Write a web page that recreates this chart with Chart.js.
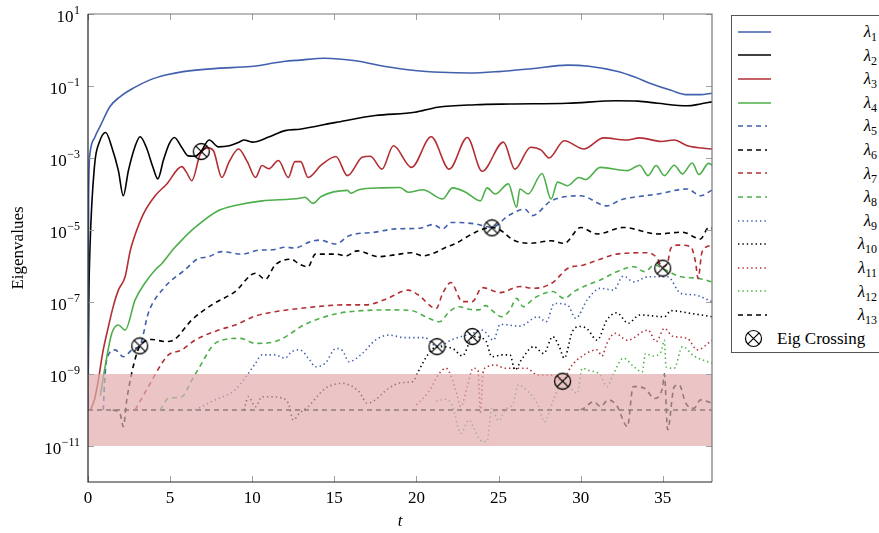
<!DOCTYPE html>
<html lang="en">
<head>
<meta charset="UTF-8">
<title>Eigenvalues over time</title>
<script src="https://cdn.jsdelivr.net/npm/chart.js"></script>
<style>
    body { margin: 0; background: #fff; font-family: 'Liberation Serif', 'Times New Roman', serif; }
    #wrap { position: relative; width: 879px; height: 533px; overflow: hidden; }
    #legend {
        position: absolute; left: 731px; top: 15px; width: 160px; height: 338px;
        border: 1px solid #555; box-sizing: border-box; padding-top: 4px; background: #fff;
    }
    .row { position: relative; height: 23.6px; }
    .row svg { position: absolute; top: 3.8px; }
    .lab { position: absolute; right: 13px; top: 0; line-height: 23.6px; font-size: 17px; color: #000; }
    .lab .sub { font-size: 12px; position: relative; top: 4px; }
    .txt { position: absolute; left: 45px; top: 0; line-height: 23.6px; font-size: 17px; }
</style>
</head>
<body>
<div id="wrap">
    <canvas id="chart" width="879" height="533"></canvas>
    <div id="legend"></div>
</div>

<script>
// ---- data (t, log10 of eigenvalue) ----
const lam1T = [0, 0.04, 0.12, 0.43, 0.73, 1.34, 1.95, 2.76, 3.78, 4.8, 5.8, 7.85, 9.9, 11.9, 12.9, 14.4, 16.3, 18.0, 19.9, 21.5, 23.2, 25.0, 27.0, 29.2, 30.5, 32.2, 33.3, 34.3, 35.5, 36.5, 37.3, 38];
const lam1E = [-10, -4, -2.87, -2.41, -2.13, -1.57, -1.3, -1.06, -0.83, -0.69, -0.6, -0.51, -0.46, -0.32, -0.28, -0.23, -0.3, -0.45, -0.57, -0.62, -0.64, -0.6, -0.52, -0.42, -0.45, -0.59, -0.75, -0.94, -1.12, -1.24, -1.24, -1.2];

const lam2T = [0, 0.05, 0.12, 0.4, 0.7, 1.08, 1.45, 1.85, 2.15, 2.46, 2.85, 3.17, 3.55, 3.95, 4.25, 4.6, 4.95, 5.26, 5.7, 6.1, 6.5, 6.85, 7.38, 7.95, 8.6, 9.2, 9.5, 10.0, 11.0, 12.0, 12.9, 15.1, 17.5, 19.9, 21.3, 23.6, 25.7, 29.2, 32.2, 33.5, 34.7, 36.5, 37.3, 38];
const lam2E = [-10, -7, -5.5, -3.2, -2.55, -2.29, -2.7, -3.35, -4.05, -3.35, -2.7, -2.41, -2.7, -3.25, -3.58, -3.05, -2.6, -2.43, -2.7, -2.94, -2.95, -2.84, -2.5, -2.69, -2.66, -2.56, -2.5, -2.56, -2.42, -2.24, -2.2, -2.01, -1.82, -1.73, -1.59, -1.52, -1.5, -1.48, -1.41, -1.42, -1.48, -1.55, -1.5, -1.44];

const lam3T = [0.15, 0.4, 0.63, 0.9, 1.24, 1.55, 1.85, 2.26, 2.56, 2.76, 3.37, 4.09, 4.8, 5.71, 6.0, 6.32, 6.83, 7.3, 7.64, 8.15, 8.6, 9.17, 9.7, 10.2, 10.6, 11.0, 11.6, 12.2, 12.6, 12.95, 13.4, 14.2, 15.1, 15.8, 16.7, 17.2, 17.9, 18.6, 19.7, 20.9, 22.0, 23.1, 24.0, 25.3, 26.0, 26.95, 27.6, 28.07, 29.0, 30.2, 31.4, 32.8, 33.6, 34.9, 35.7, 36.5, 38];
const lam3E = [-10, -9.7, -9.17, -8.4, -7.69, -7.1, -6.67, -6.3, -5.6, -5.28, -4.56, -4.05, -3.72, -3.24, -3.4, -3.63, -2.9, -2.72, -2.8, -3.54, -3.1, -2.75, -3.1, -3.54, -3.21, -3.3, -3.07, -3.54, -3.1, -3.1, -3.54, -3.2, -2.96, -3.49, -2.98, -2.95, -3.31, -2.66, -3.26, -2.41, -3.31, -2.43, -3.37, -2.56, -3.31, -2.7, -2.78, -3.0, -2.52, -2.75, -2.44, -2.5, -2.44, -2.54, -2.5, -2.66, -2.75];

const lam4T = [0.75, 1.04, 1.45, 1.85, 2.26, 2.87, 3.5, 4.09, 4.5, 5.2, 5.71, 6.52, 7.95, 8.96, 10.6, 12.9, 13.2, 13.7, 14.2, 15.8, 16.0, 16.5, 17.9, 19.0, 19.5, 20.4, 21.6, 22.2, 23.0, 23.9, 24.3, 24.8, 25.6, 26.1, 26.3, 26.8, 27.65, 28.2, 28.6, 29.2, 29.9, 30.3, 31.2, 32.85, 33.6, 34.1, 34.6, 35.1, 35.7, 36.2, 36.8, 37.2, 37.8, 38];
const lam4E = [-9.6, -8.8, -7.87, -7.64, -7.78, -6.94, -6.45, -6.11, -5.93, -5.53, -5.28, -4.93, -4.46, -4.32, -4.19, -4.12, -4.09, -4.26, -4.07, -3.9, -3.98, -3.88, -3.83, -3.82, -3.95, -3.88, -4.14, -3.83, -3.95, -4.19, -3.83, -4.0, -3.72, -4.37, -3.86, -4.0, -3.43, -4.14, -3.67, -3.77, -3.54, -3.6, -3.26, -3.35, -3.2, -3.49, -3.21, -3.49, -3.2, -3.44, -3.14, -3.46, -3.15, -3.2];

const lam5T = [0.93, 1.0, 1.14, 1.65, 2.15, 2.76, 3.17, 3.68, 4.7, 5.9, 6.73, 7.3, 8.15, 9.37, 10.4, 11.2, 12.0, 12.6, 13.5, 14.1, 14.65, 15.1, 15.9, 17.5, 18.7, 20.2, 21.0, 21.6, 22.1, 23.6, 24.6, 25.6, 26.6, 27.05, 28.2, 30.0, 31.6, 32.4, 34.7, 36.5, 37.3, 38];
const lam5E = [-10, -9.3, -8.6, -8.33, -8.52, -8.3, -8.2, -7.3, -6.57, -6.11, -5.79, -5.75, -5.6, -5.67, -5.56, -5.55, -5.48, -5.5, -5.33, -5.28, -5.34, -5.39, -5.16, -5.06, -4.97, -4.95, -4.85, -4.97, -4.79, -4.83, -4.93, -4.6, -4.42, -4.6, -4.19, -4.05, -4.33, -4.17, -4.0, -3.86, -4.05, -3.89];

const lam6T = [1.5, 1.95, 2.15, 2.36, 2.66, 2.97, 3.17, 3.88, 4.7, 5.2, 6.32, 7.54, 8.96, 10.2, 10.8, 11.4, 12.4, 12.8, 13.4, 13.85, 15.1, 15.7, 16.4, 17.7, 18.7, 19.7, 20.4, 21.0, 21.8, 22.4, 23.6, 24.6, 25.1, 25.9, 26.95, 28.2, 29.0, 30.0, 31.0, 32.6, 34.7, 36.2, 37.3, 37.8, 38];
const lam6E = [-10, -10.1, -10.46, -9.72, -8.98, -8.43, -8.22, -8.04, -8.1, -8.06, -7.5, -7.08, -6.71, -6.2, -6.37, -5.97, -5.81, -5.93, -6.02, -5.67, -5.67, -5.72, -5.58, -5.74, -5.69, -5.63, -5.72, -5.65, -5.48, -5.37, -5.06, -4.93, -5.0, -5.28, -5.37, -5.3, -5.37, -4.93, -5.11, -4.93, -5.11, -5.06, -5.25, -4.93, -4.95];

const lam7T = [2.87, 3.68, 4.5, 4.9, 5.71, 6.52, 7.95, 8.96, 10.2, 11.4, 12.9, 15.7, 16.9, 18.1, 19.5, 20.1, 21.2, 21.6, 22.1, 22.8, 23.4, 24.0, 24.8, 25.1, 26.3, 27.15, 28.3, 29.2, 30.2, 31.2, 32.2, 34.1, 34.6, 35.0, 35.3, 35.5, 35.9, 36.7, 37.0, 37.15, 37.4, 38];
const lam7E = [-10, -9.35, -8.7, -8.47, -8.33, -8.06, -7.78, -7.64, -7.39, -7.27, -7.18, -7.08, -7.08, -6.93, -6.67, -6.8, -7.18, -6.76, -6.46, -6.99, -6.99, -6.6, -6.71, -6.74, -6.57, -6.62, -6.46, -6.07, -5.97, -5.81, -5.67, -5.63, -5.75, -6.02, -5.9, -5.5, -5.42, -5.46, -5.9, -6.35, -5.6, -5.42];

const lam8T = [4.39, 4.9, 5.71, 6.32, 6.93, 7.54, 8.15, 9.27, 10.2, 11.4, 12.2, 12.9, 13.85, 15.3, 16.7, 18.7, 19.7, 20.75, 21.4, 22.0, 22.6, 23.2, 23.8, 24.2, 24.7, 25.2, 25.7, 26.1, 26.5, 27.15, 28.3, 29.0, 29.6, 30.4, 31.2, 32.2, 33.25, 33.9, 34.5, 35.0, 36.1, 37.1, 38];
const lam8E = [-10, -9.68, -9.63, -9.17, -8.7, -8.24, -8.06, -8.01, -8.15, -8.1, -7.92, -7.7, -7.5, -7.31, -7.24, -7.22, -7.24, -7.45, -7.55, -7.27, -7.13, -7.2, -7.22, -7.1, -7.27, -7.41, -7.22, -6.9, -7.13, -6.9, -6.71, -6.9, -6.71, -6.53, -6.39, -6.16, -6.02, -6.16, -5.97, -6.07, -6.3, -6.34, -6.44];

const lam9T = [6.52, 7.74, 8.96, 9.77, 10.2, 10.6, 11.4, 12.0, 12.4, 12.9, 13.5, 13.85, 14.45, 15.1, 15.5, 15.9, 16.7, 17.5, 18.3, 19.3, 20.5, 21.25, 22.2, 23.4, 24.0, 24.7, 25.1, 26.3, 27.4, 27.9, 28.4, 29.2, 29.7, 30.4, 31.2, 32.0, 32.6, 33.25, 34.1, 35.3, 36.1, 36.9, 38];
const lam9E = [-10, -9.72, -9.44, -8.98, -8.7, -8.47, -8.47, -8.56, -8.38, -8.33, -8.61, -8.8, -8.7, -8.29, -8.35, -8.66, -8.43, -8.06, -7.92, -7.99, -7.99, -8.24, -8.04, -7.87, -7.78, -8.06, -7.62, -7.67, -7.41, -7.55, -7.04, -7.08, -7.45, -6.94, -6.62, -6.67, -6.28, -6.44, -6.3, -6.3, -6.76, -6.8, -6.99];

const lam10T = [9.5, 9.77, 10.2, 10.6, 11.0, 11.6, 12.2, 12.5, 12.9, 13.4, 14.45, 15.5, 16.5, 17.0, 17.4, 18.3, 19.1, 19.8, 20.1, 20.75, 21.25, 22.2, 22.8, 23.2, 23.4, 24.2, 24.6, 25.2, 25.7, 26.0, 26.4, 27.15, 27.75, 28.3, 28.7, 29.0, 29.5, 30.0, 30.4, 31.0, 31.6, 32.2, 32.9, 33.6, 35.1, 35.5, 36.5, 38];
const lam10E = [-10, -9.63, -9.91, -9.63, -9.63, -9.65, -9.81, -10.28, -10.08, -9.91, -9.4, -9.26, -9.49, -9.81, -9.75, -9.4, -9.24, -9.21, -8.94, -8.43, -8.24, -8.29, -8.5, -8.15, -7.96, -8.06, -8.52, -8.47, -8.47, -8.89, -8.6, -8.24, -8.43, -7.96, -8.24, -8.56, -7.82, -7.68, -7.75, -8.06, -7.5, -7.3, -7.59, -7.36, -7.41, -7.24, -7.3, -7.41];

const lam11T = [20.0, 20.75, 21.4, 21.8, 22.2, 22.5, 22.7, 23.1, 23.45, 23.75, 23.9, 24.05, 24.3, 24.8, 25.4, 25.9, 26.7, 27.4, 28.2, 28.9, 29.4, 30.2, 31.0, 31.3, 31.6, 32.1, 32.85, 34.1, 34.6, 35.1, 35.6, 36.5, 37.1, 38];
const lam11E = [-9.86, -9.49, -8.98, -8.84, -9.17, -9.63, -9.91, -9.35, -8.84, -8.9, -10.1, -8.98, -8.8, -8.75, -8.84, -8.84, -8.84, -9.03, -9.03, -9.2, -8.8, -8.47, -8.33, -8.5, -8.15, -7.87, -8.06, -7.78, -8.1, -7.73, -7.95, -8.01, -8.33, -8.06];

const lam12T = [21.2, 21.8, 22.2, 22.7, 23.2, 23.5, 23.9, 24.3, 24.6, 25.0, 25.4, 25.9, 26.2, 26.8, 27.4, 27.8, 28.3, 28.9, 29.4, 29.8, 30.1, 30.5, 31.2, 31.6, 32.0, 32.6, 33.25, 33.75, 33.95, 34.4, 34.9, 35.1, 35.2, 35.7, 36.2, 36.9, 38];
const lam12E = [-9.75, -9.7, -9.9, -10.65, -10.28, -10.5, -10.84, -10.88, -9.95, -10.3, -10.0, -9.81, -9.31, -9.49, -9.86, -10.33, -9.77, -9.2, -9.4, -9.54, -8.84, -8.9, -9.03, -9.35, -9.0, -8.56, -8.8, -8.94, -8.43, -8.5, -8.38, -8.06, -8.8, -8.84, -8.24, -8.5, -8.7];

const lam13T = [30.0, 30.2, 30.8, 31.2, 31.7, 32.2, 32.85, 33.2, 33.9, 34.5, 35.0, 35.1, 35.3, 35.7, 36.0, 36.4, 36.9, 37.3, 38];
const lam13E = [-10, -9.95, -9.77, -9.9, -9.72, -9.88, -10.46, -9.35, -9.4, -9.68, -9.35, -9.0, -10.55, -9.35, -9.3, -9.81, -9.95, -9.72, -9.81];

// remaining eigenvalues sitting on the noise floor
const floorT = [0, 38];
const floorE = [-10, -10];

// eigenvalue crossings
const crossT = [6.9, 3.15, 24.6, 21.25, 23.4, 28.9, 35.0];
const crossE = [-2.82, -8.22, -4.94, -8.24, -7.96, -9.2, -6.06];

const seriesNames = ['1','2','3','4','5','6','7','8','9','10','11','12','13'];
const seriesT = [lam1T, lam2T, lam3T, lam4T, lam5T, lam6T, lam7T, lam8T, lam9T, lam10T, lam11T, lam12T, lam13T];
const seriesE = [lam1E, lam2E, lam3E, lam4E, lam5E, lam6E, lam7E, lam8E, lam9E, lam10E, lam11E, lam12E, lam13E];

const xTicks = [0, 5, 10, 15, 20, 25, 30, 35];
const yTickVals = [1e1, 1e-1, 1e-3, 1e-5, 1e-7, 1e-9, 1e-11];
const yTickExp = ['1', '\u22121', '\u22123', '\u22125', '\u22127', '\u22129', '\u221211'];
const bandHigh = 1e-9, bandLow = 1e-11;

// ---- styles ----
const BLUE = '#4060ad', BLACK = '#000000', RED = '#b22e34', GREEN = '#4daf4a';
const seriesColors = [BLUE, BLACK, RED, GREEN, BLUE, BLACK, RED, GREEN, BLUE, BLACK, RED, GREEN, BLACK];
const SOLID = [], DASHED = [5, 4], DOTTED = [1.4, 3];
const seriesDash = [SOLID, SOLID, SOLID, SOLID, DASHED, DASHED, DASHED, DASHED, DOTTED, DOTTED, DOTTED, DOTTED, DASHED];
const SERIF = "'Liberation Serif', 'Times New Roman', serif";

function toPoints(ts, es) {
    return ts.map((t, i) => ({ x: t, y: Math.pow(10, es[i]) }));
}

function crossIcon() {
    const c = document.createElement('canvas');
    c.width = 19; c.height = 19;
    const g = c.getContext('2d');
    g.strokeStyle = '#000';
    g.lineWidth = 1.3;
    g.beginPath(); g.arc(9.5, 9.5, 8, 0, 2 * Math.PI); g.stroke();
    const d = 8 * Math.SQRT1_2;
    g.beginPath();
    g.moveTo(9.5 - d, 9.5 - d); g.lineTo(9.5 + d, 9.5 + d);
    g.moveTo(9.5 + d, 9.5 - d); g.lineTo(9.5 - d, 9.5 + d);
    g.stroke();
    return c;
}

const datasets = seriesNames.map((n, i) => ({
    label: 'lambda' + n,
    data: toPoints(seriesT[i], seriesE[i]),
    borderColor: seriesColors[i],
    borderDash: seriesDash[i],
    borderWidth: 1.6,
    pointRadius: 0,
    cubicInterpolationMode: 'monotone',
    order: 1
}));
datasets.push({
    label: 'floor',
    data: toPoints(floorT, floorE),
    borderColor: BLACK,
    borderDash: DASHED,
    borderWidth: 1.6,
    pointRadius: 0,
    order: 1
});
datasets.push({
    label: 'Eig Crossing',
    data: toPoints(crossT, crossE),
    showLine: false,
    pointStyle: crossIcon(),
    pointRadius: 8,
    order: -1
});
const crossIndex = datasets.length - 1;

// band on top of the lines, frame, inside ticks and y labels
const decor = {
    id: 'decor',
    beforeDatasetDraw(chart, args) {
        if (args.index !== crossIndex) return;
        const { ctx, chartArea: a, scales: { y } } = chart;
        const y1 = y.getPixelForValue(bandHigh), y2 = y.getPixelForValue(bandLow);
        ctx.save();
        ctx.fillStyle = 'rgba(255,255,255,0.62)';
        ctx.fillRect(a.left, y1, a.right - a.left, y2 - y1);
        ctx.globalCompositeOperation = 'multiply';
        ctx.fillStyle = 'rgb(235,197,197)';
        ctx.fillRect(a.left, y1, a.right - a.left, y2 - y1);
        ctx.restore();
    },
    afterDraw(chart) {
        const { ctx, chartArea: a, scales: { x, y } } = chart;
        ctx.save();
        ctx.strokeStyle = '#a0a0a0';
        ctx.lineWidth = 1;
        xTicks.forEach(v => {
            const px = Math.round(x.getPixelForValue(v)) + 0.5;
            ctx.beginPath();
            ctx.moveTo(px, a.bottom); ctx.lineTo(px, a.bottom - 6);
            ctx.moveTo(px, a.top); ctx.lineTo(px, a.top + 6);
            ctx.stroke();
        });
        yTickVals.forEach(v => {
            const py = Math.round(y.getPixelForValue(v)) + 0.5;
            ctx.beginPath();
            ctx.moveTo(a.left, py); ctx.lineTo(a.left + 6, py);
            ctx.moveTo(a.right, py); ctx.lineTo(a.right - 6, py);
            ctx.stroke();
        });
        // frame
        ctx.lineWidth = 1.2;
        ctx.strokeStyle = '#777';
        ctx.beginPath();
        ctx.moveTo(a.left, a.top); ctx.lineTo(a.right, a.top); ctx.lineTo(a.right, a.bottom);
        ctx.stroke();
        ctx.strokeStyle = '#222';
        ctx.beginPath();
        ctx.moveTo(a.left, a.top); ctx.lineTo(a.left, a.bottom); ctx.lineTo(a.right, a.bottom);
        ctx.stroke();
        // y labels 10^k
        ctx.fillStyle = '#000';
        ctx.textBaseline = 'middle';
        ctx.textAlign = 'right';
        yTickVals.forEach((v, i) => {
            const py = y.getPixelForValue(v);
            ctx.font = '12px ' + SERIF;
            const ew = ctx.measureText(yTickExp[i]).width;
            ctx.fillText(yTickExp[i], 80, py - 3);
            ctx.font = '17px ' + SERIF;
            ctx.fillText('10', 80 - ew - 0.5, py + 4);
        });
        ctx.restore();
    }
};

const ctx = document.getElementById('chart').getContext('2d');
new Chart(ctx, {
    type: 'line',
    data: { datasets },
    options: {
        responsive: false,
        animation: false,
        events: [],
        layout: { padding: { top: 14, right: 167, left: 0, bottom: 0 } },
        plugins: { legend: { display: false }, tooltip: { enabled: false } },
        scales: {
            x: {
                type: 'linear', min: 0, max: 38,
                grid: { display: false, drawTicks: false },
                border: { display: false },
                afterBuildTicks: s => { s.ticks = xTicks.map(v => ({ value: v })); },
                afterFit: s => { s.height = 51; },
                ticks: { color: '#000', padding: 6, maxRotation: 0, font: { family: SERIF, size: 17 } },
                title: { display: true, text: 't', color: '#000', padding: { top: 0, bottom: 1 },
                         font: { family: SERIF, size: 17, style: 'italic' } }
            },
            y: {
                type: 'logarithmic', min: 1e-12, max: 10,
                grid: { display: false, drawTicks: false },
                border: { display: false },
                afterBuildTicks: s => { s.ticks = yTickVals.map(v => ({ value: v })); },
                afterFit: s => { s.width = 88; },
                ticks: { display: false },
                title: { display: true, text: 'Eigenvalues', color: '#000', padding: { top: 8, bottom: 0 },
                         font: { family: SERIF, size: 17 } }
            }
        }
    },
    plugins: [decor]
});

// ---- legend ----
function lineSvg(color, dash) {
    const len = dash.length ? (dash === DOTTED ? 30 : 29) : 33;
    return `<svg width="34" height="16" style="left:6px"><line x1="0" y1="8" x2="${len}" y2="8" stroke="${color}" stroke-width="1.6" stroke-dasharray="${dash.join(' ')}"/></svg>`;
}
const legend = document.getElementById('legend');
seriesNames.forEach((n, i) => {
    const row = document.createElement('div');
    row.className = 'row';
    row.innerHTML = lineSvg(seriesColors[i], seriesDash[i]) +
        `<span class="lab"><i>\u03bb</i><span class="sub">${n}</span></span>`;
    legend.appendChild(row);
});
const crow = document.createElement('div');
crow.className = 'row';
crow.innerHTML = `<svg width="19" height="19" style="left:12px;top:2.3px"><circle cx="9.5" cy="9.5" r="8" fill="none" stroke="#000" stroke-width="1.2"/>` +
    `<path d="M3.8 3.8 L15.2 15.2 M15.2 3.8 L3.8 15.2" stroke="#000" stroke-width="1.2"/></svg>` +
    `<span class="txt">Eig Crossing</span>`;
legend.appendChild(crow);
</script>
</body>
</html>
